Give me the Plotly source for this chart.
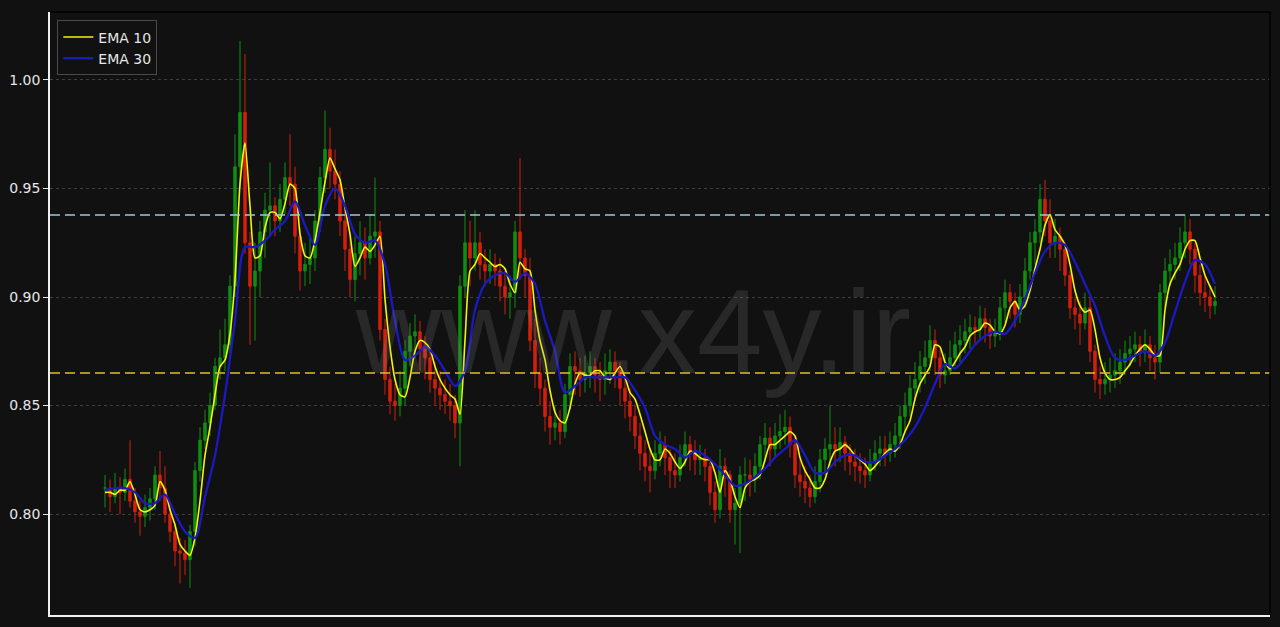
import plotly.graph_objects as go

# ---- data (one candle every ~5 px) ----
close = [
    0.812, 0.808, 0.812, 0.810, 0.816, 0.806, 0.801, 0.799, 0.803, 0.807,
    0.818, 0.812, 0.800, 0.792, 0.783, 0.782, 0.779, 0.792, 0.820, 0.834,
    0.842, 0.850, 0.868, 0.872, 0.878, 0.905, 0.960, 0.985, 0.925, 0.905,
    0.912, 0.930, 0.940, 0.942, 0.935, 0.945, 0.955, 0.952, 0.928, 0.912,
    0.915, 0.918, 0.935, 0.955, 0.968, 0.958, 0.952, 0.935, 0.922, 0.908,
    0.920, 0.925, 0.918, 0.928, 0.930, 0.885, 0.862, 0.852, 0.850, 0.858,
    0.875, 0.882, 0.884, 0.876, 0.872, 0.862, 0.858, 0.855, 0.852, 0.850,
    0.842, 0.905, 0.925, 0.918, 0.925, 0.915, 0.912, 0.915, 0.912, 0.905,
    0.900, 0.902, 0.930, 0.918, 0.910, 0.880, 0.865, 0.858, 0.845, 0.840,
    0.842, 0.838, 0.855, 0.868, 0.866, 0.862, 0.865, 0.868, 0.864, 0.862,
    0.866, 0.870, 0.866, 0.858, 0.852, 0.845, 0.836, 0.828, 0.822, 0.820,
    0.828, 0.832, 0.826, 0.820, 0.818, 0.826, 0.832, 0.828, 0.825, 0.826,
    0.822, 0.810, 0.802, 0.822, 0.818, 0.802, 0.805, 0.818, 0.818, 0.816,
    0.822, 0.832, 0.835, 0.830, 0.836, 0.838, 0.840, 0.832, 0.818, 0.815,
    0.812, 0.808, 0.815, 0.825, 0.830, 0.832, 0.830, 0.833, 0.828, 0.824,
    0.822, 0.820, 0.818, 0.824, 0.828, 0.830, 0.828, 0.832, 0.836, 0.845,
    0.850, 0.858, 0.862, 0.868, 0.872, 0.880, 0.872, 0.864, 0.866, 0.872,
    0.878, 0.880, 0.884, 0.886, 0.885, 0.890, 0.886, 0.882, 0.884, 0.895,
    0.902, 0.898, 0.892, 0.900, 0.912, 0.925, 0.930, 0.945, 0.935, 0.925,
    0.928, 0.922, 0.910, 0.895, 0.892, 0.888, 0.895, 0.875, 0.862, 0.860,
    0.862, 0.864, 0.866, 0.870, 0.874, 0.876, 0.878, 0.875, 0.878, 0.872,
    0.870, 0.902, 0.912, 0.915, 0.918, 0.925, 0.930, 0.922, 0.910, 0.902,
    0.900, 0.896, 0.898,
]
high = [
    0.818, 0.816, 0.819, 0.817, 0.821, 0.834, 0.812, 0.806, 0.809, 0.812,
    0.822, 0.829, 0.822, 0.806, 0.796, 0.789, 0.788, 0.795, 0.824, 0.840,
    0.848, 0.856, 0.872, 0.885, 0.890, 0.910, 0.975, 1.018, 1.012, 0.930,
    0.925, 0.935, 0.948, 0.962, 0.946, 0.952, 0.962, 0.975, 0.960, 0.932,
    0.925, 0.928, 0.940, 0.960, 0.986, 0.978, 0.968, 0.958, 0.940, 0.930,
    0.928, 0.935, 0.932, 0.938, 0.955, 0.935, 0.890, 0.868, 0.860, 0.866,
    0.880, 0.888, 0.892, 0.889, 0.882, 0.876, 0.870, 0.866, 0.862, 0.860,
    0.855, 0.910, 0.940, 0.935, 0.940, 0.930, 0.922, 0.922, 0.920, 0.918,
    0.912, 0.910, 0.935, 0.964, 0.922, 0.918, 0.890, 0.872, 0.862, 0.852,
    0.850, 0.848, 0.860, 0.874, 0.875, 0.872, 0.873, 0.875, 0.872, 0.870,
    0.874, 0.876, 0.875, 0.870, 0.864, 0.858, 0.850, 0.842, 0.834, 0.830,
    0.834, 0.838, 0.836, 0.830, 0.828, 0.832, 0.838, 0.836, 0.834, 0.832,
    0.830, 0.826, 0.815, 0.830, 0.826, 0.820, 0.812, 0.822, 0.826, 0.825,
    0.828, 0.836, 0.842, 0.840, 0.842, 0.846, 0.848, 0.845, 0.836, 0.826,
    0.822, 0.818, 0.822, 0.830, 0.835, 0.850, 0.840, 0.840, 0.836, 0.832,
    0.830, 0.828, 0.826, 0.830, 0.834, 0.836, 0.836, 0.838, 0.842, 0.850,
    0.856, 0.864, 0.870, 0.875, 0.880, 0.887, 0.885, 0.876, 0.874, 0.880,
    0.884, 0.887, 0.890, 0.892, 0.891, 0.896, 0.895, 0.890, 0.890, 0.900,
    0.908, 0.906, 0.902, 0.906, 0.918, 0.930, 0.936, 0.952, 0.954, 0.945,
    0.936, 0.932, 0.925, 0.912, 0.900, 0.898, 0.902, 0.900, 0.878, 0.868,
    0.870, 0.872, 0.874, 0.876, 0.880, 0.882, 0.884, 0.882, 0.885, 0.882,
    0.878, 0.906, 0.918, 0.922, 0.925, 0.932, 0.938, 0.936, 0.925, 0.915,
    0.910, 0.905, 0.905,
]
low = [
    0.803, 0.801, 0.805, 0.800, 0.806, 0.803, 0.796, 0.790, 0.794, 0.797,
    0.802, 0.806, 0.796, 0.787, 0.776, 0.768, 0.772, 0.766, 0.785, 0.815,
    0.830, 0.836, 0.848, 0.862, 0.866, 0.874, 0.900, 0.950, 0.920, 0.878,
    0.880, 0.900, 0.918, 0.928, 0.928, 0.930, 0.938, 0.942, 0.920, 0.903,
    0.905, 0.906, 0.912, 0.930, 0.948, 0.950, 0.945, 0.928, 0.912, 0.900,
    0.898, 0.910, 0.908, 0.915, 0.918, 0.880, 0.855, 0.846, 0.843, 0.845,
    0.850, 0.868, 0.872, 0.866, 0.862, 0.856, 0.850, 0.848, 0.846, 0.843,
    0.835, 0.822, 0.900, 0.905, 0.912, 0.908, 0.905, 0.906, 0.905, 0.898,
    0.892, 0.890, 0.895, 0.908, 0.900, 0.875, 0.858, 0.850, 0.838, 0.832,
    0.834, 0.832, 0.835, 0.848, 0.855, 0.854, 0.856, 0.858, 0.856, 0.852,
    0.855, 0.860, 0.858, 0.850, 0.844, 0.838, 0.830, 0.820, 0.815, 0.810,
    0.816, 0.822, 0.818, 0.812, 0.812, 0.815, 0.822, 0.820, 0.818, 0.818,
    0.815, 0.804, 0.796, 0.798, 0.808, 0.796, 0.786, 0.782, 0.806, 0.808,
    0.810, 0.816, 0.824, 0.822, 0.826, 0.830, 0.832, 0.826, 0.812, 0.808,
    0.805, 0.803, 0.805, 0.810, 0.818, 0.822, 0.822, 0.824, 0.820, 0.818,
    0.815, 0.814, 0.812, 0.815, 0.820, 0.822, 0.822, 0.824, 0.826, 0.830,
    0.838, 0.845, 0.852, 0.856, 0.860, 0.866, 0.864, 0.858, 0.860, 0.864,
    0.868, 0.870, 0.874, 0.876, 0.878, 0.880, 0.879, 0.876, 0.877, 0.880,
    0.888, 0.890, 0.886, 0.888, 0.895, 0.908, 0.915, 0.925, 0.928, 0.918,
    0.918, 0.912, 0.905, 0.890, 0.885, 0.878, 0.885, 0.870, 0.856, 0.853,
    0.855, 0.856, 0.858, 0.860, 0.864, 0.868, 0.870, 0.868, 0.870, 0.866,
    0.862, 0.865, 0.895, 0.905, 0.908, 0.912, 0.918, 0.915, 0.902, 0.896,
    0.893, 0.890, 0.892,
]
# EMA 10 (one value per candle) and EMA 30 (one value every second candle)
ema10 = [
    0.810, 0.810, 0.809, 0.811, 0.811, 0.815, 0.809, 0.802, 0.801, 0.802,
    0.804, 0.815, 0.811, 0.802, 0.795, 0.786, 0.783, 0.781, 0.789, 0.806,
    0.827, 0.840, 0.855, 0.868, 0.871, 0.883, 0.908, 0.952, 0.971, 0.942,
    0.918, 0.919, 0.932, 0.939, 0.939, 0.936, 0.943, 0.952, 0.950, 0.929,
    0.919, 0.918, 0.926, 0.939, 0.953, 0.964, 0.959, 0.954, 0.941, 0.929,
    0.914, 0.918, 0.923, 0.921, 0.924, 0.928, 0.899, 0.877, 0.862, 0.855,
    0.854, 0.863, 0.875, 0.880, 0.879, 0.876, 0.868, 0.862, 0.858, 0.855,
    0.853, 0.846, 0.880, 0.912, 0.915, 0.920, 0.918, 0.916, 0.914, 0.915,
    0.913, 0.906, 0.902, 0.916, 0.913, 0.912, 0.894, 0.880, 0.871, 0.857,
    0.847, 0.843, 0.842, 0.849, 0.860, 0.865, 0.864, 0.864, 0.866, 0.866,
    0.863, 0.862, 0.865, 0.868, 0.863, 0.856, 0.853, 0.846, 0.838, 0.830,
    0.825, 0.825, 0.830, 0.828, 0.824, 0.821, 0.824, 0.829, 0.828, 0.826,
    0.825, 0.825, 0.819, 0.810, 0.820, 0.816, 0.808, 0.803, 0.812, 0.815,
    0.816, 0.818, 0.825, 0.832, 0.832, 0.834, 0.836, 0.838, 0.836, 0.826,
    0.820, 0.816, 0.812, 0.812, 0.816, 0.824, 0.829, 0.830, 0.832, 0.830,
    0.827, 0.825, 0.823, 0.820, 0.822, 0.825, 0.828, 0.830, 0.829, 0.832,
    0.838, 0.843, 0.853, 0.860, 0.864, 0.868, 0.878, 0.877, 0.870, 0.867,
    0.870, 0.874, 0.877, 0.882, 0.884, 0.885, 0.888, 0.887, 0.884, 0.883,
    0.887, 0.895, 0.898, 0.894, 0.896, 0.903, 0.913, 0.922, 0.933, 0.938,
    0.931, 0.928, 0.924, 0.915, 0.903, 0.896, 0.893, 0.894, 0.885, 0.872,
    0.865, 0.862, 0.862, 0.863, 0.866, 0.869, 0.873, 0.876, 0.878, 0.876,
    0.873, 0.873, 0.894, 0.906, 0.911, 0.915, 0.922, 0.926, 0.926, 0.918,
    0.910, 0.905, 0.900,
]
ema30 = [
    0.811, 0.812, 0.812, 0.810, 0.805, 0.805, 0.809, 0.800, 0.792, 0.789,
    0.808, 0.827, 0.855, 0.889, 0.923, 0.923, 0.926, 0.931, 0.935, 0.944,
    0.933, 0.924, 0.942, 0.950, 0.942, 0.929, 0.925, 0.926, 0.915, 0.889,
    0.871, 0.873, 0.877, 0.873, 0.866, 0.859, 0.866, 0.894, 0.906, 0.910,
    0.911, 0.907, 0.911, 0.906, 0.889, 0.875, 0.856, 0.859, 0.863, 0.863,
    0.863, 0.863, 0.863, 0.857, 0.849, 0.836, 0.832, 0.830, 0.826, 0.829,
    0.827, 0.823, 0.818, 0.813, 0.814, 0.817, 0.821, 0.826, 0.830, 0.834,
    0.827, 0.819, 0.819, 0.824, 0.827, 0.827, 0.824, 0.824, 0.827, 0.830,
    0.834, 0.840, 0.849, 0.860, 0.869, 0.867, 0.872, 0.878, 0.882, 0.884,
    0.883, 0.889, 0.899, 0.911, 0.921, 0.925, 0.924, 0.916, 0.906, 0.896,
    0.882, 0.872, 0.871, 0.873, 0.875, 0.873, 0.879, 0.893, 0.907, 0.917,
    0.915, 0.906,
]
resistance_level = 0.9378
support_level = 0.865
y_ticks = [0.80, 0.85, 0.90, 0.95, 1.00]
y_tick_labels = ["0.80", "0.85", "0.90", "0.95", "1.00"]
legend_names = ["EMA 10", "EMA 30"]
watermark = "www.x4y.ir"

# ---- derived ----
n = len(close)
idx = list(range(n))
opens = [close[0]] + close[:-1]
hi = [max(h, o, c) for h, o, c in zip(high, opens, close)]
lo = [min(l, o, c) for l, o, c in zip(low, opens, close)]
idx30 = idx[::2][:len(ema30)]

BG = "#111111"
TXT = "#e6e6e6"

fig = go.Figure()
fig.add_trace(go.Candlestick(
    x=idx, open=opens, high=hi, low=lo, close=close,
    increasing=dict(line=dict(color="#109c10", width=1), fillcolor="#109c10"),
    decreasing=dict(line=dict(color="#e8220c", width=1), fillcolor="#e8220c"),
    whiskerwidth=0, showlegend=False, hoverinfo="skip", opacity=0.9,
))
fig.add_trace(go.Scatter(
    x=idx, y=ema10, mode="lines", name=legend_names[0],
    line=dict(color="#f4f40c", width=1.6, shape="spline", smoothing=0.6),
))
fig.add_trace(go.Scatter(
    x=idx30, y=ema30, mode="lines", name=legend_names[1],
    line=dict(color="#1a1ac0", width=2.3, shape="spline", smoothing=0.8),
))

fig.add_hline(y=resistance_level, line=dict(color="#9cc8e0", width=1.6, dash="10px,5px"))
fig.add_hline(y=support_level, line=dict(color="#e0c020", width=1.6, dash="10px,5px"))

# dark top / right frame lines (left and bottom are the white axis lines)
fig.add_shape(type="line", xref="paper", yref="paper", x0=0, x1=1, y0=1, y1=1,
              line=dict(color="#000000", width=1.5))
fig.add_shape(type="line", xref="paper", yref="paper", x0=1, x1=1, y0=0, y1=1,
              line=dict(color="#000000", width=1.5))

fig.add_annotation(
    text=watermark, xref="paper", yref="paper", x=0.478, y=0.469,
    showarrow=False, xanchor="center", yanchor="middle",
    font=dict(family="Liberation Sans", size=118, color="rgba(150,150,150,0.18)"),
)

fig.update_layout(
    width=1280, height=627,
    margin=dict(l=50, r=10, t=12, b=12),
    paper_bgcolor=BG, plot_bgcolor=BG,
    font=dict(family="DejaVu Sans", color=TXT, size=14),
    showlegend=True,
    legend=dict(
        x=0.006, y=0.986, xanchor="left", yanchor="top",
        bgcolor=BG, bordercolor="#4a4a4a", borderwidth=1,
        font=dict(family="DejaVu Sans", size=14, color=TXT),
        itemwidth=30,
    ),
    xaxis=dict(
        range=[-11, 233], showticklabels=False, showgrid=False, zeroline=False,
        showline=True, linecolor="#f0f0f0", linewidth=1.5, ticks="",
        rangeslider=dict(visible=False),
    ),
    yaxis=dict(
        range=[0.7535, 1.0313], tickvals=y_ticks, ticktext=y_tick_labels,
        tickfont=dict(family="DejaVu Sans", size=14, color=TXT),
        ticks="outside", ticklen=5, tickcolor=TXT, tickwidth=1,
        showline=True, linecolor="#f0f0f0", linewidth=1.5,
        showgrid=True, gridcolor="#3e3e3e", griddash="dot", gridwidth=0.8,
        zeroline=False,
    ),
)

page_fix = (
    "document.body.style.margin='0';"
    "document.body.style.padding='0';"
    "document.body.style.background='#111111';"
    "document.body.style.overflow='hidden';"
)
fig.write_html("out.html", post_script=page_fix, config={"displayModeBar": False})
